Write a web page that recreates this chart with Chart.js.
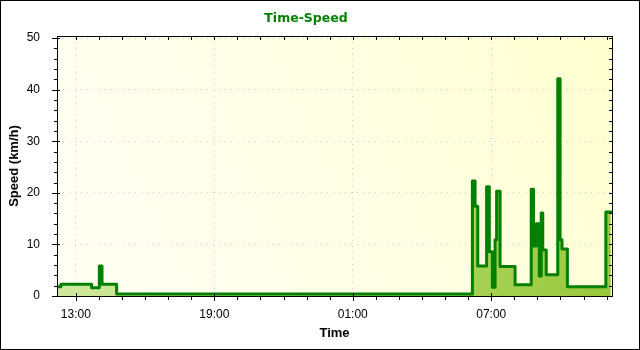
<!DOCTYPE html>
<html>
<head>
<meta charset="utf-8">
<script src="https://cdn.jsdelivr.net/npm/chart.js@4.4.1/dist/chart.umd.min.js"></script>
<style>
html,body{margin:0;padding:0;background:#fff;}
#wrap{width:640px;height:350px;position:relative;}
canvas{display:block;}
</style>
</head>
<body>
<div id="wrap"><canvas id="c" width="640" height="350"></canvas></div>
<script>
// ---- data ----
const times = ["12:13","12:21","13:41","14:01","14:08","14:46","06:11","06:18","06:25","06:48","06:55","07:03","07:10","07:14","07:23","08:02","08:44","08:50","08:57","09:05","09:10","09:14","09:23","09:53","09:59","10:04","10:18","11:58","12:11"];
const speeds = [1.8,2.3,1.6,5.8,2.3,0.4,22.3,17.4,5.8,21.2,8.6,1.7,10.9,20.3,5.7,2.2,20.7,9.7,14.0,3.9,16.1,8.9,4.1,42.1,10.9,9.1,1.8,16.3,16.3];
const axisStart = "12:11";
const axisEnd = "12:14";
const xTickLabels = ["13:00","19:00","01:00","07:00"];
const yTickValues = [0,10,20,30,40,50];
const yMax = 50.4;

// convert clock strings to continuous hours (wraps past midnight)
function toHours(list){
  let off = 0, prev = -Infinity;
  return list.map(t => {
    const [h, m] = t.split(':').map(Number);
    let v = h + m / 60 + off;
    if (v < prev) { off += 24; v += 24; }
    prev = v;
    return v;
  });
}
const xs = toHours(times);
const axisHours = toHours([axisStart].concat(times, [axisEnd]));
const xMin = axisHours[0], xMax = axisHours[axisHours.length - 1];
const xTickVals = toHours([axisStart].concat(xTickLabels)).slice(1);

const points = xs.map((x, i) => ({x: x, y: speeds[i]}));

const decor = {
  id: 'decor',
  beforeDraw(chart){
    const {ctx, chartArea: a} = chart;
    ctx.save();
    const g = ctx.createLinearGradient(a.right, a.top, a.left, a.bottom);
    g.addColorStop(0, '#FFFFD0');
    g.addColorStop(0.5, '#FFFFE6');
    g.addColorStop(1, '#FFFFF4');
    ctx.fillStyle = g;
    ctx.fillRect(a.left, a.top, a.right - a.left, a.bottom - a.top);
    ctx.restore();
  },
  afterDraw(chart){
    const {ctx, chartArea: a, scales} = chart;
    const sx = scales.x, sy = scales.y;
    ctx.save();
    ctx.strokeStyle = '#000';
    ctx.lineWidth = 1;
    ctx.strokeRect(a.left + 0.5, a.top + 0.5, a.right - a.left, a.bottom - a.top);
    ctx.beginPath();
    for (let h = Math.ceil(sx.min); h <= Math.floor(sx.max); h++) {
      const px = Math.round(sx.getPixelForValue(h)) + 0.5;
      const major = xTickVals.some(v => Math.abs(v - h) < 1e-6);
      if (major) { ctx.moveTo(px, a.bottom - 3); ctx.lineTo(px, a.bottom + 5); }
      else { ctx.moveTo(px, a.bottom); ctx.lineTo(px, a.bottom + 4); }
      ctx.moveTo(px, a.top); ctx.lineTo(px, a.top + 4);
    }
    for (let v = 0; v <= 50; v += 2) {
      const py = Math.round(sy.getPixelForValue(v)) + 0.5;
      const major = yTickValues.includes(v);
      if (major) { ctx.moveTo(a.left - 5, py); ctx.lineTo(a.left + 3, py); }
      else { ctx.moveTo(a.left - 3, py); ctx.lineTo(a.left + 1, py); }
      ctx.moveTo(a.right - 3, py); ctx.lineTo(a.right + 1, py);
    }
    ctx.stroke();
    ctx.strokeRect(0.5, 0.5, chart.width - 1, chart.height - 1);
    ctx.restore();
  }
};

new Chart(document.getElementById('c'), {
  type: 'line',
  data: {
    datasets: [{
      data: points,
      stepped: true,
      borderColor: '#008000',
      borderWidth: 3,
      borderJoinStyle: 'round',
      borderCapStyle: 'round',
      pointRadius: 0,
      fill: 'origin',
      backgroundColor: (c) => {
        const a = c.chart.chartArea;
        if (!a) return '#B8DC70';
        const g = c.chart.ctx.createLinearGradient(a.left, a.top, a.right, a.bottom);
        g.addColorStop(0, '#DCEFB4');
        g.addColorStop(1, '#98C83A');
        return g;
      }
    }]
  },
  options: {
    responsive: false,
    animation: false,
    devicePixelRatio: 1,
    layout: {padding: {left: 0, right: 28, top: 0, bottom: 0}},
    plugins: {
      legend: {display: false},
      tooltip: {enabled: false},
      title: {
        display: true,
        text: 'Time-Speed',
        color: '#008000',
        font: {family: 'DejaVu Sans', size: 12.5, weight: 'bold'},
        padding: {top: 11, bottom: 10}
      }
    },
    scales: {
      x: {
        type: 'linear',
        min: xMin,
        max: xMax,
        afterBuildTicks: s => { s.ticks = xTickVals.map(v => ({value: v})); },
        afterFit: s => { s.height = 54; },
        ticks: {
          callback: (v, i) => xTickLabels[i],
          autoSkip: false, maxRotation: 0,
          font: {family: 'Liberation Sans', size: 12},
          color: '#000',
          padding: 3
        },
        grid: {color: '#C8C8C8', lineWidth: 1, tickLength: 8, tickColor: 'rgba(0,0,0,0)'},
        border: {display: false, dash: [1, 5]},
        title: {
          display: true, text: 'Time', color: '#000',
          font: {family: 'Liberation Sans', size: 13, weight: 'bold'},
          padding: {top: 0, bottom: 9}
        }
      },
      y: {
        min: 0,
        max: yMax,
        afterBuildTicks: s => { s.ticks = yTickValues.map(v => ({value: v})); },
        afterFit: s => { s.width = 57; },
        ticks: {
          font: {family: 'Liberation Sans', size: 12},
          color: '#000',
          padding: 9
        },
        grid: {color: '#C8C8C8', lineWidth: 1, tickLength: 8, tickColor: 'rgba(0,0,0,0)'},
        border: {display: false, dash: [1, 5]},
        title: {
          display: true, text: 'Speed (km/h)', color: '#000',
          font: {family: 'Liberation Sans', size: 13, weight: 'bold'},
          padding: {top: 7, bottom: 0}
        }
      }
    }
  },
  plugins: [decor]
});
</script>
</body>
</html>
